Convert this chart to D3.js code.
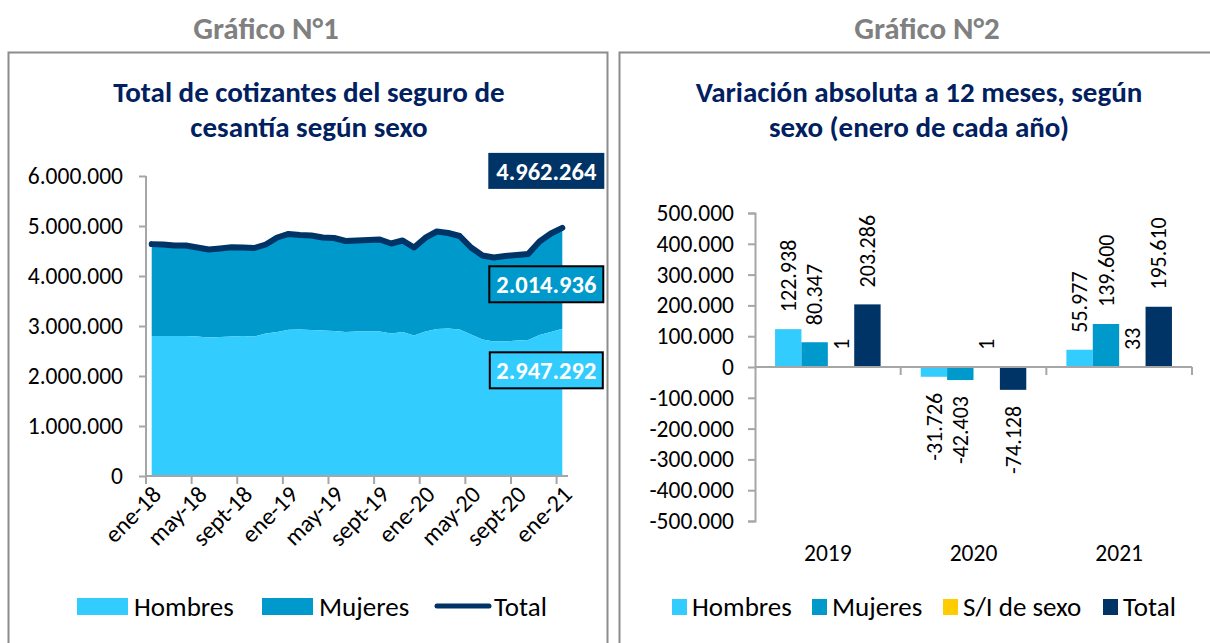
<!DOCTYPE html>
<html>
<head>
<meta charset="utf-8">
<script src="https://cdn.jsdelivr.net/npm/d3@7"></script>
<style>
  body { margin: 0; background: #fff; }
  svg { display: block; font-family: Carlito, Calibri, Lato, sans-serif; }
</style>
</head>
<body>
<svg id="chart" width="1210" height="643"></svg>
<script>
// ---------- data: Gráfico N°1 ----------
var meses = ["ene-18","feb-18","mar-18","abr-18","may-18","jun-18","jul-18","ago-18","sept-18","oct-18","nov-18","dic-18",
  "ene-19","feb-19","mar-19","abr-19","may-19","jun-19","jul-19","ago-19","sept-19","oct-19","nov-19","dic-19",
  "ene-20","feb-20","mar-20","abr-20","may-20","jun-20","jul-20","ago-20","sept-20","oct-20","nov-20","dic-20",
  "ene-21"];
var hombres = [2800103,2800000,2800000,2800000,2790000,2770000,2780000,2790000,2800000,2790000,2850000,2880000,
  2923041,2930000,2920000,2910000,2900000,2880000,2890000,2890000,2890000,2850000,2880000,2810000,
  2891315,2940000,2950000,2930000,2830000,2730000,2690000,2690000,2710000,2720000,2820000,2880000,
  2947292];
var mujeres = [1837392,1830000,1810000,1810000,1780000,1760000,1770000,1785000,1770000,1770000,1780000,1890000,
  1917739,1890000,1890000,1860000,1860000,1820000,1820000,1830000,1840000,1800000,1830000,1760000,
  1875336,1950000,1910000,1870000,1740000,1680000,1680000,1710000,1710000,1720000,1870000,1970000,
  2014936];
var total = [4637496,4630000,4610000,4610000,4570000,4530000,4550000,4575000,4570000,4560000,4630000,4770000,
  4840782,4820000,4810000,4770000,4760000,4700000,4710000,4720000,4730000,4650000,4710000,4570000,
  4766654,4890000,4860000,4800000,4570000,4410000,4370000,4400000,4420000,4440000,4690000,4850000,
  4962264];
var ticksG1 = [0, 1000000, 2000000, 3000000, 4000000, 5000000, 6000000];

// ---------- data: Gráfico N°2 ----------
var anios = ["2019", "2020", "2021"];
var series2 = ["Hombres", "Mujeres", "S/I de sexo", "Total"];
var varHombres = [122938, -31726, 55977];
var varMujeres = [80347, -42403, 139600];
var varSinInfo = [1, 1, 33];
var varTotal = [203286, -74128, 195610];
var ticksG2 = [-500000,-400000,-300000,-200000,-100000,0,100000,200000,300000,400000,500000];

var colores = { "Hombres": "#33ccff", "Mujeres": "#0099cc", "S/I de sexo": "#ffcc00", "Total": "#003366" };
var navy = "#002060", gris = "#a6a6a6";

var es = d3.formatLocale({ decimal: ",", thousands: ".", grouping: [3], currency: ["$", ""], minus: "-" });
var fmt = es.format(",d");

var svg = d3.select("#chart");

// ---------- frames & headings ----------
svg.append("rect").attr("x", 8.5).attr("y", 52.5).attr("width", 599).attr("height", 620)
  .attr("fill", "none").attr("stroke", "#8c8c8c").attr("stroke-width", 2);
svg.append("rect").attr("x", 619.5).attr("y", 52.5).attr("width", 620).attr("height", 620)
  .attr("fill", "none").attr("stroke", "#8c8c8c").attr("stroke-width", 2);

svg.append("text").attr("x", 266).attr("y", 39).attr("text-anchor", "middle")
  .style("font-size", "31px").style("font-weight", "bold").attr("fill", "#808080").text("Gráfico N°1");
svg.append("text").attr("x", 927).attr("y", 39).attr("text-anchor", "middle")
  .style("font-size", "31px").style("font-weight", "bold").attr("fill", "#808080").text("Gráfico N°2");

function titulo(cx, lines) {
  var t = svg.append("text").attr("text-anchor", "middle")
    .style("font-size", "29px").style("font-weight", "bold").attr("fill", navy);
  lines.forEach(function (l, i) {
    t.append("tspan").attr("x", cx).attr("y", 102 + i * 35).text(l);
  });
}
titulo(309, ["Total de cotizantes del seguro de", "cesantía según sexo"]);
titulo(919, ["Variación absoluta a 12 meses, según", "sexo (enero de cada año)"]);

// ================= Gráfico N°1 =================
var g1 = svg.append("g");
var x1 = d3.scaleBand().domain(meses).range([146, 568]);
var y1 = d3.scaleLinear().domain([0, 6000000]).range([476, 176]);
var cx1 = function (i) { return x1(meses[i]) + x1.bandwidth() / 2; };

var areaH = d3.area().x(function (d, i) { return cx1(i); })
  .y0(y1(0)).y1(function (d) { return y1(d); });
var areaM = d3.area().x(function (d, i) { return cx1(i); })
  .y0(function (d, i) { return y1(hombres[i]); })
  .y1(function (d, i) { return y1(hombres[i] + d); });
var lineT = d3.line().x(function (d, i) { return cx1(i); }).y(function (d) { return y1(d); });

g1.append("path").datum(mujeres).attr("d", areaM).attr("fill", colores["Mujeres"]);
g1.append("path").datum(hombres).attr("d", areaH).attr("fill", colores["Hombres"]);

// axes
var yAx1 = g1.append("g").attr("transform", "translate(146,0)")
  .call(d3.axisLeft(y1).tickValues(ticksG1).tickFormat(fmt).tickSize(7).tickPadding(16));
var xAx1 = g1.append("g").attr("transform", "translate(0,476)")
  .call(d3.axisBottom(x1).tickValues(meses.filter(function (d, i) { return i % 4 === 0; })).tickSize(8));
xAx1.selectAll(".tick line").attr("x1", -x1.bandwidth() / 2).attr("x2", -x1.bandwidth() / 2);
xAx1.selectAll(".tick text").attr("text-anchor", "end")
  .attr("transform", "translate(5,14) rotate(-45)").attr("dy", "0.35em").attr("y", 0).attr("x", 0)
  .style("font-size", "24px");
yAx1.selectAll(".tick text").style("font-size", "23.5px");
[yAx1, xAx1].forEach(function (a) {
  a.selectAll(".domain, .tick line").attr("stroke", gris).attr("stroke-width", 2);
  a.selectAll(".tick text").attr("fill", "#000");
  a.attr("font-family", null);
});
xAx1.select(".domain").attr("d", "M146,0H568");
yAx1.select(".domain").attr("d", "M0,476V176");

g1.append("path").datum(total).attr("d", lineT).attr("fill", "none")
  .attr("stroke", colores["Total"]).attr("stroke-width", 6)
  .attr("stroke-linejoin", "round").attr("stroke-linecap", "round");

// value boxes for last month
var last = meses.length - 1;
var xl = cx1(last);
function caja(cy, w, fill, stroke, value) {
  var b = g1.append("g").attr("transform", "translate(" + (xl - 16) + "," + cy + ")");
  b.append("rect").attr("x", -w / 2).attr("y", -18).attr("width", w).attr("height", 36)
    .attr("fill", fill).attr("stroke", stroke).attr("stroke-width", stroke === "none" ? 0 : 2);
  b.append("text").attr("text-anchor", "middle").attr("dy", "0.36em")
    .style("font-size", "24.5px").style("font-weight", "bold").attr("fill", "#fff").text(fmt(value));
}
caja(y1(total[last]) - 57, 116, colores["Total"], "none", total[last]);
caja(y1(hombres[last] + mujeres[last] / 2) + 6, 114, colores["Mujeres"], "#000", mujeres[last]);
caja(y1(hombres[last] / 2) - 32, 113, colores["Hombres"], "#000", hombres[last]);

// legend 1
var leg1 = g1.append("g").style("font-size", "27px");
[["Hombres", 77], ["Mujeres", 262]].forEach(function (d) {
  leg1.append("rect").attr("x", d[1]).attr("y", 598).attr("width", 51).attr("height", 17).attr("fill", colores[d[0]]);
  leg1.append("text").attr("x", d[1] + 57).attr("y", 616).text(d[0]);
});
leg1.append("line").attr("x1", 437).attr("x2", 489).attr("y1", 606).attr("y2", 606)
  .attr("stroke", colores["Total"]).attr("stroke-width", 5).attr("stroke-linecap", "round");
leg1.append("text").attr("x", 494).attr("y", 616).text("Total");

// ================= Gráfico N°2 =================
var g2 = svg.append("g");
var x2 = d3.scaleBand().domain(anios).range([755, 1192]);
var xs = d3.scaleBand().domain(series2).range([0, x2.bandwidth()]).paddingOuter(0.76);
var y2 = d3.scaleLinear().domain([-500000, 500000]).range([521, 213]);

var filas = [];
anios.forEach(function (a, i) {
  var vals = [varHombres[i], varMujeres[i], varSinInfo[i], varTotal[i]];
  series2.forEach(function (s, j) { filas.push({ anio: a, serie: s, v: vals[j] }); });
});

var yAx2 = g2.append("g").attr("transform", "translate(755,0)")
  .call(d3.axisLeft(y2).tickValues(ticksG2).tickFormat(fmt).tickSize(7).tickPadding(14));
yAx2.selectAll(".tick text").style("font-size", "23.5px").attr("fill", "#000");
yAx2.selectAll(".domain, .tick line").attr("stroke", gris).attr("stroke-width", 2);
yAx2.attr("font-family", null);

g2.selectAll("rect.bar").data(filas).enter().append("rect").attr("class", "bar")
  .attr("x", function (d) { return x2(d.anio) + xs(d.serie); })
  .attr("width", xs.bandwidth())
  .attr("y", function (d) { return y2(Math.max(0, d.v)); })
  .attr("height", function (d) { return Math.abs(y2(d.v) - y2(0)); })
  .attr("fill", function (d) { return colores[d.serie]; });

// x axis at zero with boundary ticks
var xAx2 = g2.append("g").attr("transform", "translate(0," + y2(0) + ")");
xAx2.append("path").attr("d", "M755,0H1192").attr("stroke", gris).attr("stroke-width", 2);
xAx2.selectAll("line").data(anios).enter().append("line")
  .attr("x1", function (d) { return x2(d) + x2.bandwidth(); })
  .attr("x2", function (d) { return x2(d) + x2.bandwidth(); })
  .attr("y1", 0).attr("y2", 8).attr("stroke", gris).attr("stroke-width", 2);
g2.selectAll("text.cat").data(anios).enter().append("text").attr("class", "cat")
  .attr("x", function (d) { return x2(d) + x2.bandwidth() / 2; }).attr("y", 561)
  .attr("text-anchor", "middle").style("font-size", "23.5px").text(function (d) { return d; });

// data labels
g2.selectAll("text.lbl").data(filas).enter().append("text").attr("class", "lbl")
  .attr("transform", function (d) {
    var cx = x2(d.anio) + xs(d.serie) + xs.bandwidth() / 2;
    var cy = d.v >= 0 ? y2(d.v) - 17 : y2(d.v) + 16;
    return "translate(" + cx + "," + cy + ") rotate(-90)";
  })
  .attr("text-anchor", function (d) { return d.v >= 0 ? "start" : "end"; })
  .attr("dy", "0.35em").style("font-size", "22px")
  .text(function (d) { return fmt(d.v); });

// legend 2
var leg2 = g2.append("g").style("font-size", "27px");
[["Hombres", 672], ["Mujeres", 812], ["S/I de sexo", 943], ["Total", 1103]].forEach(function (d) {
  leg2.append("rect").attr("x", d[1]).attr("y", 599).attr("width", 15).attr("height", 16).attr("fill", colores[d[0]]);
  leg2.append("text").attr("x", d[1] + 20).attr("y", 616).text(d[0]);
});
</script>
</body>
</html>
